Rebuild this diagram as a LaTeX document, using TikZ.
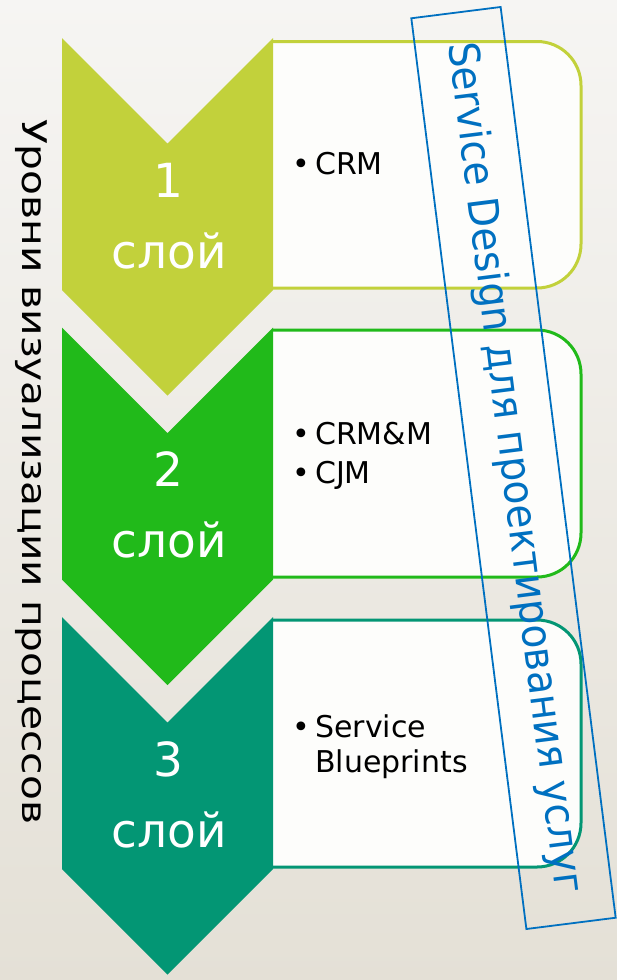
\documentclass[tikz,border=0pt]{standalone}
\usepackage{fontspec}
\setmainfont{DejaVu Sans}
\newfontfamily\sidefont[FakeStretch=1.2]{DejaVu Sans}
\newfontfamily\sdfont[FakeStretch=0.93]{DejaVu Sans}
\usepackage{xcolor}
\usepackage{tikz}

\definecolor{layerA}{HTML}{C2D13B}
\definecolor{layerB}{HTML}{21BA1A}
\definecolor{layerC}{HTML}{039674}
\definecolor{sdblue}{HTML}{0070C0}
\definecolor{bgtop}{HTML}{F6F5F3}
\definecolor{bgbot}{HTML}{E4E0D6}
\definecolor{panelfill}{HTML}{FDFDFB}

\begin{document}
\begin{tikzpicture}[
  x=1pt, y=-1pt,
  panel/.style={line width=3pt, fill=panelfill, rounded corners=44pt},
  num/.style={anchor=base, inner sep=0pt, text=white, font=\fontsize{47}{56}\selectfont},
  bul/.style={anchor=base, inner sep=0pt, font=\fontsize{30}{36}\selectfont},
  item/.style={anchor=base west, inner sep=0pt, font=\fontsize{30}{36}\selectfont},
  side/.style={rotate=-90, anchor=base, inner sep=0pt, font=\sidefont\fontsize{34}{40}\selectfont},
  sdbox/.style={draw=sdblue, line width=1.8pt, text=sdblue, rotate=-82.8, minimum width=918pt, minimum height=90pt, inner sep=0pt, font=\sdfont\fontsize{42}{50}\selectfont},
]
  \useasboundingbox (0,0) rectangle (616,980);
  \fill[bgbot] (-4,-4) rectangle (620,984);
  \shade[top color=bgtop, bottom color=bgbot] (-4,-4) rectangle (620,984);

  % panels
  \filldraw[panel, draw=layerA] (273,41.5) -- (581,41.5) -- (581,288) -- (273,288);
  \filldraw[panel, draw=layerB] (273,330) -- (581,330) -- (581,577) -- (273,577);
  \filldraw[panel, draw=layerC] (273,620) -- (581,620) -- (581,867) -- (273,867);

  % chevrons
  \fill[layerA] (62,38) -- (167.5,143.5) -- (273,38) -- (273,290) -- (167.5,395.5) -- (62,290) -- cycle;
  \fill[layerB] (62,327.5) -- (167.5,433) -- (273,327.5) -- (273,579.5) -- (167.5,685) -- (62,579.5) -- cycle;
  \fill[layerC] (62,617) -- (167.5,722.5) -- (273,617) -- (273,869) -- (167.5,974.5) -- (62,869) -- cycle;

  \node[num] (n1) at (168,197) {1};
  \node[num] (l1) at (169,268) {слой};
  \node[num] (n2) at (168,486.5) {2};
  \node[num] (l2) at (169,557.5) {слой};
  \node[num] (n3) at (168,776) {3};
  \node[num] (l3) at (169,847) {слой};

  \node[bul] (b1) at (301,174) {\textbullet};
  \node[item] (crm) at (315,174) {CRM};
  \node[bul] (b2) at (301,444) {\textbullet};
  \node[item] (crmm) at (315,444) {CRM\&M};
  \node[bul] (b3) at (301,483) {\textbullet};
  \node[item] (cjm) at (315,483) {CJM};
  \node[bul] (b4) at (301,737) {\textbullet};
  \node[item] (serv) at (315,737) {Service};
  \node[item] (blue) at (315,772) {Blueprints};

  \node[side] (levels) at (23,472) {Уровни визуализации процессов};

  \node[sdbox] (sd) at (513.5,468) {Service Design для проектирования услуг};
\end{tikzpicture}
\end{document}
